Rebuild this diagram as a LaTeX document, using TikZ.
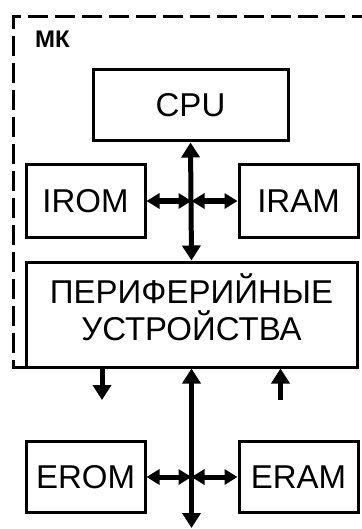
\documentclass[tikz,border=0pt]{standalone}
\usepackage{fontspec}
\setmainfont{Liberation Sans}
\usetikzlibrary{arrows.meta}
\tikzset{
  blk/.style={draw, line width=3pt, inner sep=0pt, font=\fontsize{33}{37}\selectfont},
  lbl/.style={inner sep=0pt, font=\fontsize{33}{37}\selectfont},
  mkstyle/.style={inner sep=0pt, font=\bfseries\fontsize{24}{28}\selectfont},
  bus/.style={line width=5pt},
  vtip/.tip={Triangle[width=18pt,length=15pt]},
  htip/.tip={Triangle[width=15pt,length=13pt]},
  frame/.style={line width=3pt, dash pattern=on 20pt off 7pt},
}
\begin{document}
\begin{tikzpicture}[x=1pt,y=-1pt]
\useasboundingbox (0,0) rectangle (361,529);
\fill[white] (0,0) rectangle (361,529);
% frame
\draw[frame] (372,17) -- (13,17) -- (13,367) -- (26,367);
\node[mkstyle, anchor=base west] (mk) at (35,48) {МК};
% blocks
\node[blk, minimum width=195pt, minimum height=71pt] (cpu) at (190.5,105.5) {CPU};
\node[blk, minimum width=119pt, minimum height=72pt] (irom) at (85.5,201) {IROM};
\node[blk, minimum width=119pt, minimum height=72pt] (iram) at (298.5,201) {IRAM};
\node[blk, minimum width=331pt, minimum height=105pt] (per) at (191.5,314.5) {};
\node[lbl, anchor=base] (pt1) at (191.5,303) {ПЕРИФЕРИЙНЫЕ};
\node[lbl, anchor=base] (pt2) at (191.5,340) {УСТРОЙСТВА};
\node[blk, minimum width=119pt, minimum height=71pt] (erom) at (85.5,477) {EROM};
\node[blk, minimum width=119pt, minimum height=71pt] (eram) at (298.5,477) {ERAM};
% bus coordinates
\coordinate (bi) at (191.5,201);
\coordinate (be) at (191.5,477);
\coordinate (bend) at (191.5,528);
\coordinate (pd) at (102,400);
\coordinate (pu) at (280.5,400);
% internal bus
\draw[bus, {vtip}-{vtip}] (cpu.south) -- (per.north);
\draw[bus, {htip}-{htip}] (irom.east) -- (bi);
\draw[bus, {htip}-{htip}] (bi) -- (iram.west);
% external bus
\draw[bus, {vtip}-{vtip}] (per.south) -- (bend);
\draw[bus, {htip}-{htip}] (erom.east) -- (be);
\draw[bus, {htip}-{htip}] (be) -- (eram.west);
% peripheral io
\draw[bus, -{vtip}] (per.south -| pd) -- (pd);
\draw[bus, -{vtip}] (pu) -- (per.south -| pu);
\end{tikzpicture}
\end{document}
